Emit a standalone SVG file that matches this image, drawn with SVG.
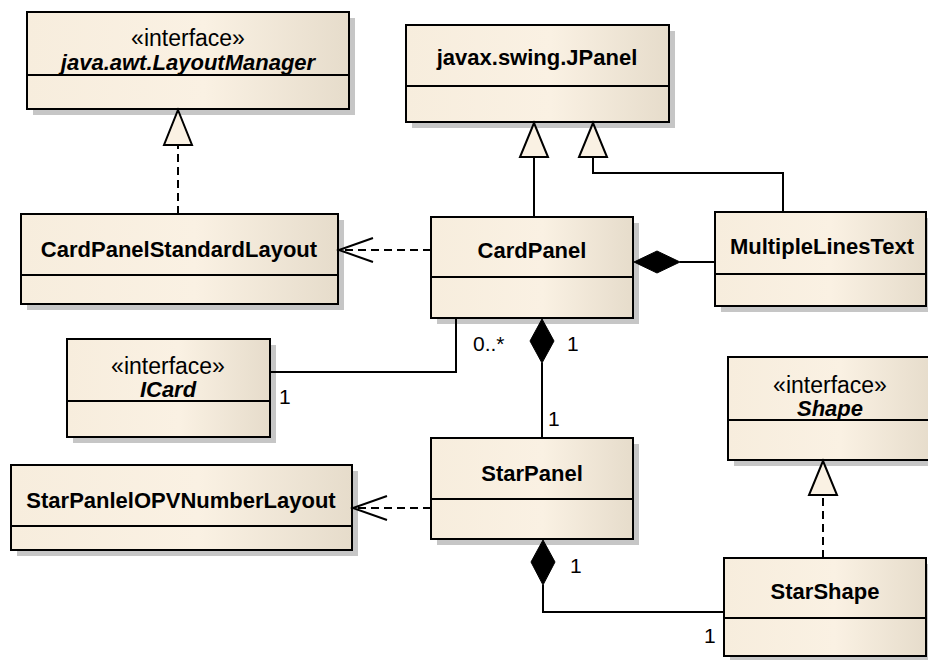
<svg xmlns="http://www.w3.org/2000/svg" width="928" height="660" viewBox="0 0 928 660">
<defs>
<linearGradient id="fill" x1="0" y1="0" x2="1" y2="0">
<stop offset="0" stop-color="#f7eddd"/>
<stop offset="0.55" stop-color="#faf1e3"/>
<stop offset="1" stop-color="#e6dccb"/>
</linearGradient>
<style>
.shadow{fill:#c6c6c6;stroke:none}
.box{fill:url(#fill);stroke:#000;stroke-width:2}
.div{stroke:#000;stroke-width:2}
.name{font-family:"Liberation Sans",Arial,sans-serif;font-size:22px;font-weight:bold;text-anchor:middle;fill:#000}
.iname{font-family:"Liberation Sans",Arial,sans-serif;font-size:22px;font-weight:bold;font-style:italic;text-anchor:middle;fill:#000}
.stereo{font-family:"Liberation Sans",Arial,sans-serif;font-size:23px;text-anchor:middle;fill:#000}
.lbl{font-family:"Liberation Sans",Arial,sans-serif;font-size:21px;fill:#000}
.line{fill:none;stroke:#000;stroke-width:2}
.dash{fill:none;stroke:#000;stroke-width:2;stroke-dasharray:8 5}
.tri{fill:#faf1e3;stroke:#000;stroke-width:2;stroke-linejoin:miter}
.dia{fill:#000;stroke:#000;stroke-width:1}
</style>
</defs>
<rect width="928" height="660" fill="#fff"/>

<g id="LayoutManager">
<rect class="shadow" x="33" y="18" width="322" height="97"/>
<rect class="box" x="27" y="12" width="322" height="97"/>
<line class="div" x1="27" y1="75" x2="349" y2="75"/>
<text class="stereo" x="188" y="46">«interface»</text>
<text class="iname" x="188" y="70">java.awt.LayoutManager</text>
</g>

<g id="CardPanelStandardLayout">
<rect class="shadow" x="27" y="220" width="317" height="90"/>
<rect class="box" x="21" y="214" width="317" height="90"/>
<line class="div" x1="21" y1="275" x2="338" y2="275"/>
<text class="name" x="179" y="257">CardPanelStandardLayout</text>
</g>

<g id="JPanel">
<rect class="shadow" x="412" y="31" width="263" height="97"/>
<rect class="box" x="406" y="25" width="263" height="97"/>
<line class="div" x1="406" y1="86" x2="669" y2="86"/>
<text class="name" x="537" y="65">javax.swing.JPanel</text>
</g>

<g id="CardPanel">
<rect class="shadow" x="437" y="223" width="202" height="101"/>
<rect class="box" x="431" y="217" width="202" height="101"/>
<line class="div" x1="431" y1="277" x2="633" y2="277"/>
<text class="name" x="532" y="258">CardPanel</text>
</g>

<g id="MultipleLinesText">
<rect class="shadow" x="721" y="218" width="211" height="94"/>
<rect class="box" x="715" y="212" width="211" height="94"/>
<line class="div" x1="715" y1="274" x2="926" y2="274"/>
<text class="name" x="822" y="254">MultipleLinesText</text>
</g>

<g id="ICard">
<rect class="shadow" x="73" y="345" width="203" height="98"/>
<rect class="box" x="67" y="339" width="203" height="98"/>
<line class="div" x1="67" y1="401" x2="270" y2="401"/>
<text class="stereo" x="168" y="374">«interface»</text>
<text class="iname" x="168" y="397">ICard</text>
</g>

<g id="StarPanel">
<rect class="shadow" x="437" y="444" width="202" height="101"/>
<rect class="box" x="431" y="438" width="202" height="101"/>
<line class="div" x1="431" y1="499" x2="633" y2="499"/>
<text class="name" x="532" y="481">StarPanel</text>
</g>

<g id="StarPanlelOPVNumberLayout">
<rect class="shadow" x="17" y="471" width="341" height="85"/>
<rect class="box" x="11" y="465" width="341" height="85"/>
<line class="div" x1="11" y1="526" x2="352" y2="526"/>
<text class="name" x="181" y="508">StarPanlelOPVNumberLayout</text>
</g>

<g id="Shape">
<rect class="shadow" x="734" y="363" width="204" height="103"/>
<rect class="box" x="728" y="357" width="204" height="103"/>
<line class="div" x1="728" y1="420" x2="932" y2="420"/>
<text class="stereo" x="830" y="393">«interface»</text>
<text class="iname" x="830" y="416">Shape</text>
</g>

<g id="StarShape">
<rect class="shadow" x="730" y="564" width="202" height="98"/>
<rect class="box" x="724" y="558" width="202" height="98"/>
<line class="div" x1="724" y1="618" x2="926" y2="618"/>
<text class="name" x="825" y="599">StarShape</text>
</g>

<g id="connectors">
<line class="dash" x1="178" y1="214" x2="178" y2="145"/>
<polygon class="tri" points="178,110 192,145 164,145"/>
<line class="line" x1="534" y1="217" x2="534" y2="157"/>
<polygon class="tri" points="534,123 548,157 520,157"/>
<polyline class="line" points="783,212 783,173 593,173 593,157"/>
<polygon class="tri" points="593,123 607,157 579,157"/>
<line class="dash" x1="431" y1="250" x2="340" y2="250"/>
<polyline class="line" points="373,238 339,250 373,262"/>
<line class="line" x1="680" y1="262" x2="715" y2="262"/>
<polygon class="dia" points="634,262 657,251 680,262 657,273"/>
<polyline class="line" points="270,372 456,372 456,318"/>
<text class="lbl" x="473" y="351">0..*</text>
<text class="lbl" x="279" y="404">1</text>
<line class="line" x1="542" y1="363" x2="542" y2="438"/>
<polygon class="dia" points="542,319 554,341 542,363 530,341"/>
<text class="lbl" x="567" y="351">1</text>
<text class="lbl" x="548" y="426">1</text>
<line class="dash" x1="431" y1="508" x2="354" y2="508"/>
<polyline class="line" points="387,496 353,508 387,520"/>
<polyline class="line" points="543,585 543,612 724,612"/>
<polygon class="dia" points="543,540 555,562 543,585 531,562"/>
<text class="lbl" x="570" y="573">1</text>
<text class="lbl" x="704" y="643">1</text>
<line class="dash" x1="823" y1="558" x2="823" y2="495"/>
<polygon class="tri" points="823,461 837,495 809,495"/>
</g>
</svg>
